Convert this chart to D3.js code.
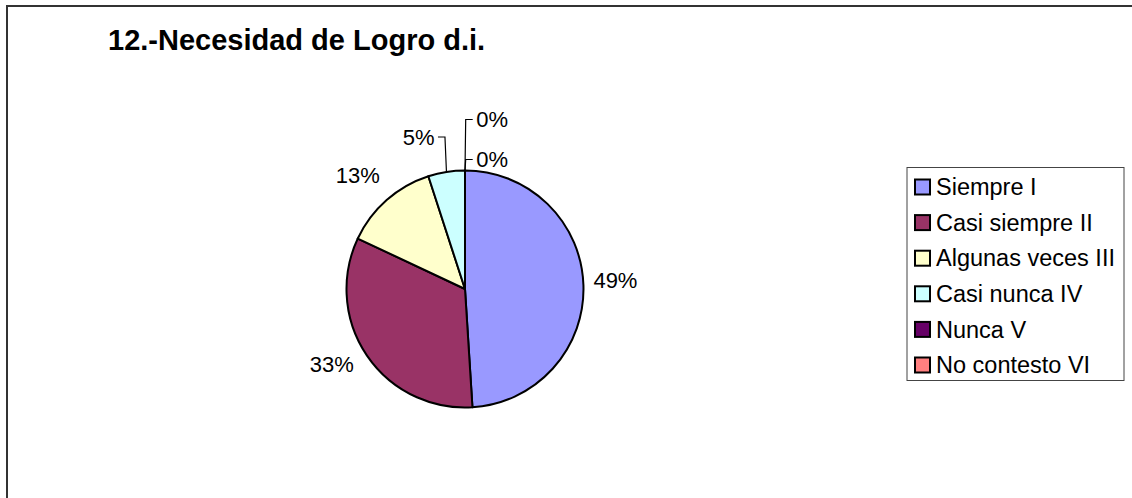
<!DOCTYPE html>
<html>
<head>
<meta charset="utf-8">
<script src="https://cdn.jsdelivr.net/npm/d3@7"></script>
<style>
  html, body { margin: 0; padding: 0; background: #fff; }
  svg { display: block; font-family: "Liberation Sans", Arial, Helvetica, sans-serif; }
</style>
</head>
<body>
<svg id="chart" width="1132" height="498"></svg>
<script>
// ---- data ----
const chartTitle = "12.-Necesidad de Logro d.i.";
const categories = ["Siempre I", "Casi siempre II", "Algunas veces III", "Casi nunca IV", "Nunca V", "No contesto VI"];
const percentages = [49, 33, 13, 5, 0, 0];
const sliceColors = ["#9999FF", "#993366", "#FFFFCC", "#CCFFFF", "#660066", "#FF8080"];

// ---- layout ----
const W = 1132, H = 498;
const cx = 465, cy = 289, radius = 118.5;
const labelRadius = radius + 33;

const svg = d3.select("#chart");

// chart frame
svg.append("rect")
  .attr("x", 7).attr("y", 6)
  .attr("width", W + 20).attr("height", H + 20)
  .attr("fill", "#fff").attr("stroke", "#333").attr("stroke-width", 2);

// title
svg.append("text")
  .attr("x", 108).attr("y", 50)
  .attr("font-size", 29).attr("font-weight", "bold")
  .attr("fill", "#000")
  .text(chartTitle);

// pie
const pie = d3.pie().sort(null).value(d => d).startAngle(0).endAngle(2 * Math.PI);
const arcs = pie(percentages);
const arc = d3.arc().innerRadius(0).outerRadius(radius);

const g = svg.append("g").attr("transform", `translate(${cx},${cy})`);

g.selectAll("path.slice")
  .data(arcs.filter(a => a.value > 0))
  .join("path")
  .attr("class", "slice")
  .attr("d", arc)
  .attr("fill", d => sliceColors[d.index])
  .attr("stroke", "#000")
  .attr("stroke-width", 2)
  .attr("stroke-linejoin", "round");

const midAngle = a => (a.startAngle + a.endAngle) / 2;
const pointAt = (ang, r) => [Math.sin(ang) * r, -Math.cos(ang) * r];

// small slices get callout labels with leader lines, stacked above the pie
const callouts = new Map([
  [3, { elbowY: -152, side: -1 }],
  [4, { elbowY: -169.5, side: 1 }],
  [5, { elbowY: -129.5, side: 1 }]
]);
// small nudges for the outside labels
const labelNudge = new Map([[1, [-8, -10]], [2, [-7, 0]], [0, [-1, -4]]]);

const labelFont = 22;

arcs.forEach(a => {
  const txt = a.value + "%";
  const co = callouts.get(a.index);
  if (co) {
    const [px, py] = pointAt(midAngle(a), radius);
    const ex = px + (co.side < 0 ? -1.5 : 0.7);
    const hx = ex + co.side * 7;
    g.append("path")
      .attr("d", `M${px},${py}L${ex},${co.elbowY}L${hx},${co.elbowY}`)
      .attr("fill", "none").attr("stroke", "#000").attr("stroke-width", 1.2);
    g.append("text")
      .attr("x", hx + co.side * 3.5)
      .attr("y", co.elbowY)
      .attr("dy", "0.35em")
      .attr("text-anchor", co.side < 0 ? "end" : "start")
      .attr("font-size", labelFont)
      .attr("fill", "#000")
      .text(txt);
  } else {
    const [lx, ly] = pointAt(midAngle(a), labelRadius);
    const [nx, ny] = labelNudge.get(a.index) || [0, 0];
    g.append("text")
      .attr("x", lx + nx).attr("y", ly + ny)
      .attr("dy", "0.35em")
      .attr("text-anchor", "middle")
      .attr("font-size", labelFont)
      .attr("fill", "#000")
      .text(txt);
  }
});

// legend
const legend = svg.append("g").attr("transform", "translate(907,167.5)");
legend.append("rect")
  .attr("x", 0).attr("y", 0).attr("width", 217).attr("height", 213)
  .attr("fill", "#fff").attr("stroke", "#444").attr("stroke-width", 1);

const rowY = d3.scalePoint().domain(categories).range([19.5, 197.5]);

const rows = legend.selectAll("g.item")
  .data(categories)
  .join("g")
  .attr("class", "item")
  .attr("transform", d => `translate(0,${rowY(d)})`);

rows.append("rect")
  .attr("x", 8).attr("y", -7.5).attr("width", 15).attr("height", 15)
  .attr("fill", (d, i) => sliceColors[i])
  .attr("stroke", "#000").attr("stroke-width", 2);

rows.append("text")
  .attr("x", 29).attr("y", 0).attr("dy", "0.35em")
  .attr("font-size", 23.5).attr("fill", "#000")
  .text(d => d);
</script>
</body>
</html>
